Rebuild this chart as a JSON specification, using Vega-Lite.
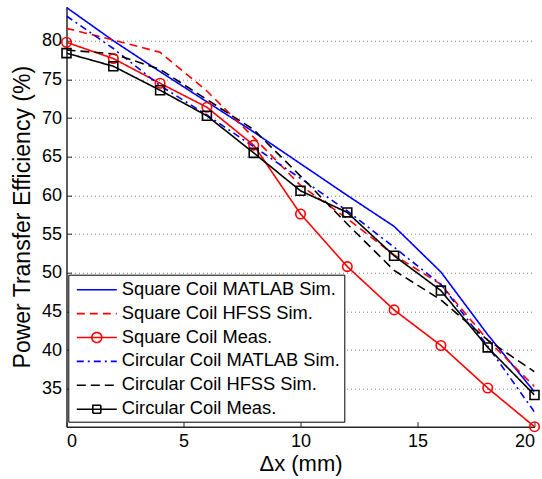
{
  "$schema": "https://vega.github.io/schema/vega-lite/v6.json",
  "autosize": "none",
  "width": 468,
  "height": 420,
  "padding": {"left": 66.5, "top": 6.7, "right": 7.5, "bottom": 52.3},
  "background": "white",
  "config": {"view": {"stroke": null}, "font": "Liberation Sans"},
  "datasets": {
    "curves": [
      {"series": "Square Coil MATLAB Sim.", "x": 0, "y": 84.3},
      {"series": "Square Coil MATLAB Sim.", "x": 2, "y": 80.0},
      {"series": "Square Coil MATLAB Sim.", "x": 4, "y": 76.0},
      {"series": "Square Coil MATLAB Sim.", "x": 6, "y": 72.1},
      {"series": "Square Coil MATLAB Sim.", "x": 8, "y": 68.2},
      {"series": "Square Coil MATLAB Sim.", "x": 10, "y": 64.1},
      {"series": "Square Coil MATLAB Sim.", "x": 12, "y": 60.0},
      {"series": "Square Coil MATLAB Sim.", "x": 14, "y": 56.0},
      {"series": "Square Coil MATLAB Sim.", "x": 16, "y": 50.1},
      {"series": "Square Coil MATLAB Sim.", "x": 18, "y": 42.0},
      {"series": "Square Coil MATLAB Sim.", "x": 20, "y": 34.6},
      {"series": "Square Coil HFSS Sim.", "x": 0, "y": 81.6},
      {"series": "Square Coil HFSS Sim.", "x": 2, "y": 80.1},
      {"series": "Square Coil HFSS Sim.", "x": 4, "y": 78.5},
      {"series": "Square Coil HFSS Sim.", "x": 6, "y": 73.5},
      {"series": "Square Coil HFSS Sim.", "x": 8, "y": 67.5},
      {"series": "Square Coil HFSS Sim.", "x": 10, "y": 61.3},
      {"series": "Square Coil HFSS Sim.", "x": 12, "y": 57.0},
      {"series": "Square Coil HFSS Sim.", "x": 14, "y": 52.3},
      {"series": "Square Coil HFSS Sim.", "x": 16, "y": 48.5},
      {"series": "Square Coil HFSS Sim.", "x": 18, "y": 41.3},
      {"series": "Square Coil HFSS Sim.", "x": 20, "y": 35.3},
      {"series": "Square Coil Meas.", "x": 0, "y": 79.8},
      {"series": "Square Coil Meas.", "x": 2, "y": 77.7},
      {"series": "Square Coil Meas.", "x": 4, "y": 74.5},
      {"series": "Square Coil Meas.", "x": 6, "y": 71.4},
      {"series": "Square Coil Meas.", "x": 8, "y": 66.5},
      {"series": "Square Coil Meas.", "x": 10, "y": 57.6},
      {"series": "Square Coil Meas.", "x": 12, "y": 50.8},
      {"series": "Square Coil Meas.", "x": 14, "y": 45.2},
      {"series": "Square Coil Meas.", "x": 16, "y": 40.6},
      {"series": "Square Coil Meas.", "x": 18, "y": 35.1},
      {"series": "Square Coil Meas.", "x": 20, "y": 30.1},
      {"series": "Circular Coil MATLAB Sim.", "x": 0, "y": 83.2},
      {"series": "Circular Coil MATLAB Sim.", "x": 2, "y": 79.0},
      {"series": "Circular Coil MATLAB Sim.", "x": 4, "y": 74.2},
      {"series": "Circular Coil MATLAB Sim.", "x": 6, "y": 70.4},
      {"series": "Circular Coil MATLAB Sim.", "x": 8, "y": 66.3},
      {"series": "Circular Coil MATLAB Sim.", "x": 10, "y": 62.2},
      {"series": "Circular Coil MATLAB Sim.", "x": 12, "y": 58.0},
      {"series": "Circular Coil MATLAB Sim.", "x": 14, "y": 53.3},
      {"series": "Circular Coil MATLAB Sim.", "x": 16, "y": 48.5},
      {"series": "Circular Coil MATLAB Sim.", "x": 18, "y": 40.5},
      {"series": "Circular Coil MATLAB Sim.", "x": 20, "y": 32.0},
      {"series": "Circular Coil HFSS Sim.", "x": 0, "y": 78.8},
      {"series": "Circular Coil HFSS Sim.", "x": 2, "y": 78.3},
      {"series": "Circular Coil HFSS Sim.", "x": 4, "y": 76.3},
      {"series": "Circular Coil HFSS Sim.", "x": 6, "y": 72.4},
      {"series": "Circular Coil HFSS Sim.", "x": 8, "y": 68.5},
      {"series": "Circular Coil HFSS Sim.", "x": 10, "y": 62.5},
      {"series": "Circular Coil HFSS Sim.", "x": 12, "y": 56.3},
      {"series": "Circular Coil HFSS Sim.", "x": 14, "y": 50.3},
      {"series": "Circular Coil HFSS Sim.", "x": 16, "y": 46.5},
      {"series": "Circular Coil HFSS Sim.", "x": 18, "y": 41.3},
      {"series": "Circular Coil HFSS Sim.", "x": 20, "y": 37.2},
      {"series": "Circular Coil Meas.", "x": 0, "y": 78.4},
      {"series": "Circular Coil Meas.", "x": 2, "y": 76.7},
      {"series": "Circular Coil Meas.", "x": 4, "y": 73.6},
      {"series": "Circular Coil Meas.", "x": 6, "y": 70.3},
      {"series": "Circular Coil Meas.", "x": 8, "y": 65.5},
      {"series": "Circular Coil Meas.", "x": 10, "y": 60.6},
      {"series": "Circular Coil Meas.", "x": 12, "y": 57.8},
      {"series": "Circular Coil Meas.", "x": 14, "y": 52.2},
      {"series": "Circular Coil Meas.", "x": 16, "y": 47.7},
      {"series": "Circular Coil Meas.", "x": 18, "y": 40.35},
      {"series": "Circular Coil Meas.", "x": 20, "y": 34.2}
    ]
  },
  "data": {"name": "curves"},
  "encoding": {
    "x": {
      "field": "x", "type": "quantitative",
      "scale": {"domain": [0, 20], "nice": false, "zero": false},
      "axis": {
        "title": "Δx (mm)", "values": [0, 5, 10, 15, 20], "grid": false,
        "domainColor": "#262626", "domainWidth": 1.5, "tickColor": "#262626", "tickSize": -5, "tickWidth": 1,
        "labelFont": "Liberation Sans", "labelFontSize": 18, "labelColor": "black", "labelPadding": 11,
        "titleFont": "Liberation Sans", "titleFontSize": 22, "titleFontWeight": "normal", "titleColor": "black", "titlePadding": 3
      }
    },
    "y": {
      "field": "y", "type": "quantitative",
      "scale": {"domain": [30.1, 84.4], "nice": false, "zero": false},
      "axis": {
        "title": "Power Transfer Efficiency (%)", "values": [35, 40, 45, 50, 55, 60, 65, 70, 75, 80],
        "grid": true, "gridColor": "#7f7f7f", "gridDash": [1, 3], "gridWidth": 1,
        "domainColor": "#262626", "domainWidth": 1.5, "tickColor": "#262626", "tickSize": -5, "tickWidth": 1,
        "labelFont": "Liberation Sans", "labelFontSize": 18, "labelColor": "black", "labelPadding": 10,
        "titleFont": "Liberation Sans", "titleFontSize": 23, "titleFontWeight": "normal", "titleColor": "black", "titlePadding": 7
      }
    }
  },
  "layer": [
    {
      "mark": {"type": "line", "strokeWidth": 1.6, "clip": true},
      "encoding": {
        "color": {
          "field": "series", "type": "nominal",
          "scale": {
            "domain": ["Square Coil MATLAB Sim.", "Square Coil HFSS Sim.", "Square Coil Meas.", "Circular Coil MATLAB Sim.", "Circular Coil HFSS Sim.", "Circular Coil Meas."],
            "range": ["#0000ff", "#ff0000", "#ff0000", "#0000ff", "#000000", "#000000"]
          },
          "legend": {
            "orient": "none", "legendX": 1.8, "legendY": 268, "title": null,
            "strokeColor": "black", "fillColor": "white", "padding": 4,
            "symbolSize": 400, "symbolStrokeWidth": 1.6, "symbolOffset": 13.5,
            "labelFont": "Liberation Sans", "labelFontSize": 18.3, "labelColor": "black", "labelOffset": 14, "labelLimit": 400,
            "rowPadding": 3.9,
            "encode": {
              "symbols": {
                "update": {
                  "fill": {"value": "transparent"},
                  "shape": {"signal": "indexof(datum.label, 'Square Coil Meas') >= 0 ? 'M-2,0H2M0.5,0A0.5,0.5,0,1,1,-0.5,0A0.5,0.5,0,1,1,0.5,0' : (indexof(datum.label, 'Circular Coil Meas') >= 0 ? 'M-2,0H2M-0.4,-0.4H0.4V0.4H-0.4Z' : 'M-2,0H2')"}
                }
              }
            }
          }
        },
        "strokeDash": {
          "field": "series", "type": "nominal",
          "scale": {
            "domain": ["Square Coil MATLAB Sim.", "Square Coil HFSS Sim.", "Square Coil Meas.", "Circular Coil MATLAB Sim.", "Circular Coil HFSS Sim.", "Circular Coil Meas."],
            "range": [[1, 0], [8, 5], [1, 0], [7, 4, 2, 4], [9, 5], [1, 0]]
          }
        }
      }
    },
    {
      "transform": [{"filter": "datum.series == 'Square Coil Meas.'"}],
      "mark": {"type": "point", "shape": "circle", "filled": false, "color": "#ff0000", "strokeWidth": 1.6, "size": 90, "opacity": 1, "clip": false},
      "encoding": {}
    },
    {
      "transform": [{"filter": "datum.series == 'Circular Coil Meas.'"}],
      "mark": {"type": "point", "shape": "square", "filled": false, "color": "#000000", "strokeWidth": 1.6, "size": 80, "opacity": 1, "clip": false},
      "encoding": {}
    }
  ]
}
